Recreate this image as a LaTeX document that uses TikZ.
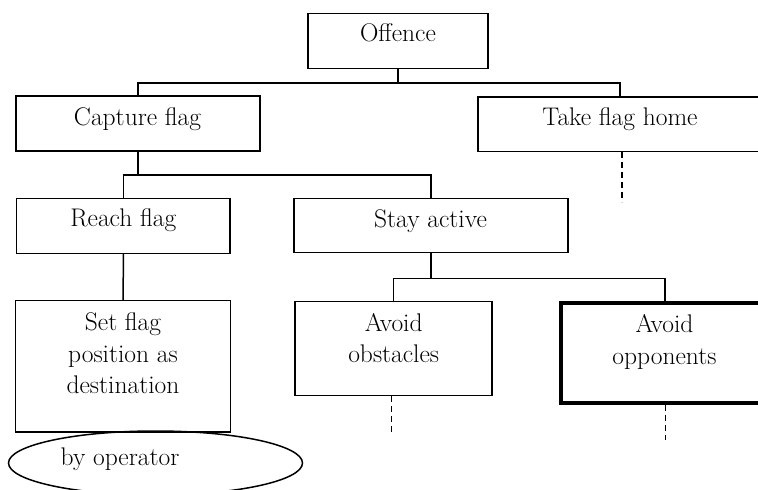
\documentclass[tikz,border=0pt]{standalone}
\usetikzlibrary{shapes.geometric}
\begin{document}
\begin{tikzpicture}[x=1pt,y=-1pt,
  line width=1.5pt,
  box/.style={draw, rectangle, inner sep=0pt},
  goalbox/.style={box, line width=3.6pt},
  oval/.style={draw, ellipse, inner sep=0pt},
  lbl/.style={anchor=base, inner sep=0pt, align=center,
    font=\fontsize{25.5}{31.5}\selectfont},
  tail/.style={dash pattern=on 6pt off 4pt}]
\useasboundingbox (0,0) rectangle (758,490);
\clip (0,0) rectangle (758,490);

% goal boxes
\node[box, minimum width=180, minimum height=55] (off) at (398,40.8) {};
\node[box, minimum width=244.3, minimum height=55] (cap) at (137.9,123.5) {};
\node[box, minimum width=284, minimum height=54.7] (home) at (620,124.3) {};
\node[box, minimum width=213.3, minimum height=55] (reach) at (123.3,225.8) {};
\node[box, minimum width=274, minimum height=54.4] (stay) at (431,225.5) {};
\node[box, minimum width=215, minimum height=131.3] (setf) at (123.2,366.3) {};
\node[box, minimum width=197, minimum height=94] (obst) at (393.5,348.7) {};
\node[goalbox, minimum width=208, minimum height=100] (opp) at (665,352.7) {};
\node[oval, minimum width=294, minimum height=64] (byop) at (155.5,463) {};

% labels (base anchor sits on the last line of a multi-line label)
\node[lbl] (toff) at (398,41.7) {Offence};
\node[lbl] (tcap) at (137.5,125) {Capture flag};
\node[lbl] (thome) at (620,125) {Take flag home};
\node[lbl] (treach) at (123.3,226.7) {Reach flag};
\node[lbl] (tstay) at (430.5,227.3) {Stay active};
\node[lbl] (tsetf) at (123,393.5) {Set flag\\position as\\destination};
\node[lbl] (tobst) at (393.7,362.7) {Avoid\\obstacles};
\node[lbl] (topp) at (664.5,364.3) {Avoid\\opponents};
\node[lbl] (tbyop) at (120,465) {by operator};

% tree connectors
\draw (off.south) -- ++(0,13.7) coordinate (j1);
\draw (cap.north) |- (j1) -| (home.north);
\draw (cap.south) -- ++(0,23) coordinate (j2);
\draw (reach.north) |- (j2) -| (stay.north);
\draw (reach.south) -- (setf.north);
\draw (stay.south) -- ++(0,25) coordinate (j3);
\draw (obst.north) |- (j3) -| (opp.north);

% open branches
\draw[tail] ([xshift=2pt]home.south) -- ++(0,50) coordinate (homeend);
\draw[tail] ([xshift=-1.8pt]obst.south) -- ++(0,37) coordinate (obstend);
\draw[tail] ([xshift=0.7pt]opp.south) -- ++(0,35) coordinate (oppend);
\end{tikzpicture}
\end{document}
